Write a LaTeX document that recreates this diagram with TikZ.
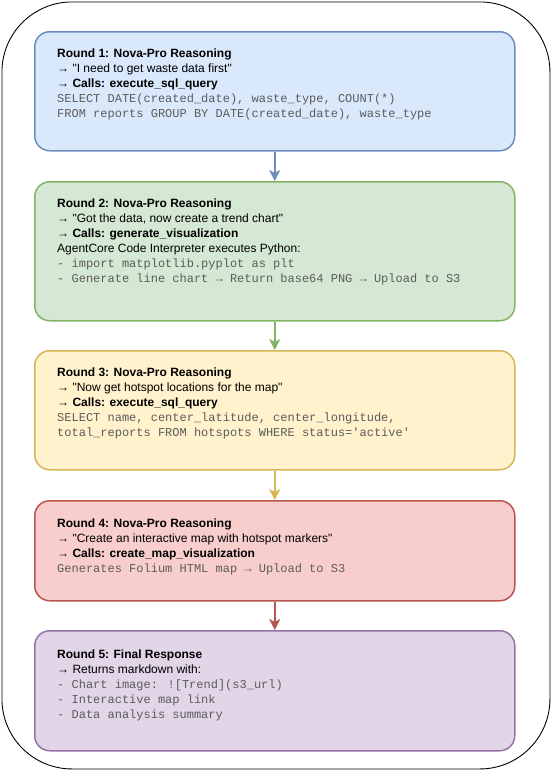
\documentclass[tikz,border=0pt]{standalone}
\usepackage{fontspec}
\setmainfont{Liberation Sans}[Ligatures=TeXOff]
\newfontfamily\monof{Liberation Mono}[Ligatures=TeXOff]
\usetikzlibrary{arrows.meta}
\definecolor{bfill}{HTML}{DAE8FC}\definecolor{bline}{HTML}{6C8EBF}
\definecolor{gfill}{HTML}{D5E8D4}\definecolor{gline}{HTML}{82B366}
\definecolor{yfill}{HTML}{FFF2CC}\definecolor{yline}{HTML}{D6B656}
\definecolor{rfill}{HTML}{F8CECC}\definecolor{rline}{HTML}{B85450}
\definecolor{pfill}{HTML}{E1D5E7}\definecolor{pline}{HTML}{9673A6}
\definecolor{codegray}{HTML}{5C5C5C}
\newcommand\cd[1]{{\monof\color{codegray}#1}}
\tikzset{
  roundbox/.style={draw=#1line, fill=#1fill, line width=1.5pt, rounded corners=15pt,
    minimum width=480pt, inner sep=0pt, anchor=north west},
  txt/.style={anchor=north west, inner sep=0pt, align=left, font=\fontsize{12}{15}\selectfont},
  flow/.style={draw=#1line, line width=2pt, -{Stealth[length=11pt,width=11pt,inset=3pt]}, fill=#1line},
}
\begin{document}
\begin{tikzpicture}[x=1pt,y=-1pt]
\useasboundingbox (0,0) rectangle (551,771);
\node[draw=black, line width=0.9pt, rounded corners=70pt, minimum width=548pt, minimum height=767pt, anchor=north west, inner sep=0pt] (frame) at (1.5,1.5) {};

\node[roundbox=b, minimum height=119pt] (b1) at (34,31) {};
\node[roundbox=g, minimum height=139pt] (b2) at (34,181) {};
\node[roundbox=y, minimum height=119pt] (b3) at (34,350) {};
\node[roundbox=r, minimum height=100pt] (b4) at (34,500) {};
\node[roundbox=p, minimum height=120pt] (b5) at (34,630) {};

\draw[flow=b] (b1.south) -- (b2.north);
\draw[flow=g] (b2.south) -- (b3.north);
\draw[flow=y] (b3.south) -- (b4.north);
\draw[flow=r] (b4.south) -- (b5.north);

\node[txt] (t1) at (57,49) {\textbf{Round 1: Nova-Pro Reasoning}\\
→ "I need to get waste data first"\\
\textbf{→ Calls: execute\_sql\_query}\\
\cd{SELECT DATE(created\_date), waste\_type, COUNT(*)}\\
\cd{FROM reports GROUP BY DATE(created\_date), waste\_type}};

\node[txt] (t2) at (57,199) {\textbf{Round 2: Nova-Pro Reasoning}\\
→ "Got the data, now create a trend chart"\\
\textbf{→ Calls: generate\_visualization}\\
AgentCore Code Interpreter executes Python:\\
\cd{- import matplotlib.pyplot as plt}\\
\cd{- Generate line chart → Return base64 PNG → Upload to S3}};

\node[txt] (t3) at (57,368) {\textbf{Round 3: Nova-Pro Reasoning}\\
→ "Now get hotspot locations for the map"\\
\textbf{→ Calls: execute\_sql\_query}\\
\cd{SELECT name, center\_latitude, center\_longitude,}\\
\cd{total\_reports FROM hotspots WHERE status=\textquotesingle active\textquotesingle}};

\node[txt] (t4) at (57,519) {\textbf{Round 4: Nova-Pro Reasoning}\\
→ "Create an interactive map with hotspot markers"\\
\textbf{→ Calls: create\_map\_visualization}\\
\cd{Generates Folium HTML map → Upload to S3}};

\node[txt] (t5) at (57,650) {\textbf{Round 5: Final Response}\\
→ Returns markdown with:\\
\cd{- Chart image: ![Trend](s3\_url)}\\
\cd{- Interactive map link}\\
\cd{- Data analysis summary}};
\end{tikzpicture}
\end{document}
